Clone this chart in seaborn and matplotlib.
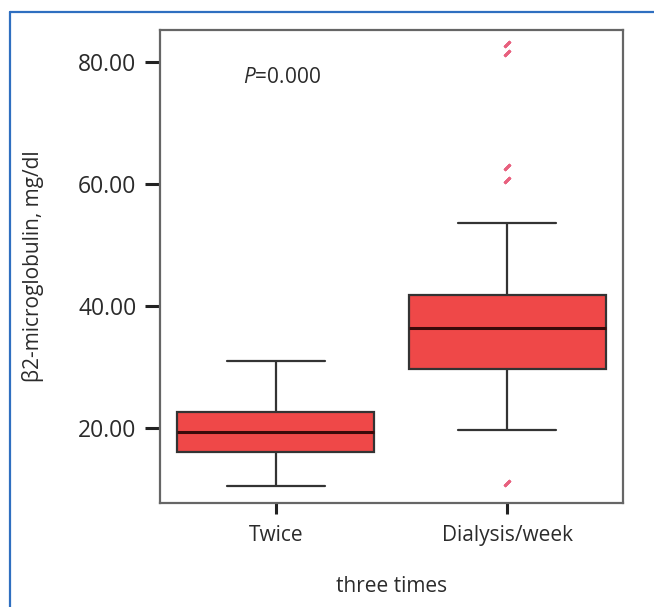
import matplotlib
matplotlib.use("Agg")
import matplotlib.pyplot as plt
from matplotlib.lines import Line2D
import seaborn as sns
import pandas as pd

# -------------------- Data --------------------
categories = ["Twice", "Dialysis/week"]

# values (whisker ends, quartiles, median, outliers)
twice_values = [10.5, 13.0, 16.1, 18.0, 19.3, 21.0, 22.6, 26.0, 31.0]
dialysis_values = [
    11.0, 19.7, 22.5, 25.0, 27.5, 29.7, 31.0, 32.5, 34.0, 35.2, 36.4,
    37.5, 38.5, 39.8, 40.8, 41.8, 53.6, 60.7, 62.8, 81.5, 83.0,
]

y_ticks = [20, 40, 60, 80]
y_ticklabels = ["20.00", "40.00", "60.00", "80.00"]
p_text = "=0.000"

df = pd.DataFrame({
    "group": [categories[0]] * len(twice_values) + [categories[1]] * len(dialysis_values),
    "value": twice_values + dialysis_values,
})

# -------------------- Plot --------------------
sns.set_style("white")
plt.rcParams["font.family"] = ["Open Sans", "DejaVu Sans"]
plt.rcParams["mathtext.fontset"] = "custom"
plt.rcParams["mathtext.it"] = "Open Sans:italic"
plt.rcParams["mathtext.rm"] = "Open Sans"

fig = plt.figure(figsize=(6.54, 6.07), dpi=100)
ax = fig.add_axes([0.2446, 0.1713, 0.7080, 0.7792])

box_color = "#ef4848"
line_color = "#333333"
text_color = "#2b2b2b"

sns.boxplot(
    data=df,
    x="group",
    y="value",
    order=categories,
    color=box_color,
    saturation=1,
    width=0.85,
    whis=1.5,
    linewidth=1.6,
    linecolor=line_color,
    medianprops=dict(color="#3a0a0a", linewidth=2.2),
    flierprops=dict(marker=(2, 2, -45), markersize=6, markeredgewidth=2.0,
                    markeredgecolor="#e8607e", markerfacecolor="#e8607e"),
    ax=ax,
)

ax.set_xlim(-0.5, 1.5)
ax.set_ylim(7.7, 85.25)
ax.set_yticks(y_ticks)
ax.set_yticklabels(y_ticklabels)

ax.tick_params(axis="y", direction="out", length=11, width=2.2, color="#222222",
               labelsize=16.5, labelcolor=text_color, pad=6, left=True)
ax.tick_params(axis="x", direction="out", length=8, width=2.2, color="#222222",
               labelsize=15, labelcolor=text_color, pad=8, bottom=True)

for side, spine in ax.spines.items():
    spine.set_visible(True)
    spine.set_color("#666666")
    spine.set_linewidth(1.6)

ax.set_xlabel("three times", fontsize=15, color=text_color)
ax.set_ylabel("β2-microglobulin, mg/dl", fontsize=15, color=text_color)
ax.xaxis.set_label_coords(0.5, -0.155)
ax.yaxis.set_label_coords(-0.25, 0.5)

ax.text(0.18, 77.5, r"$\it{P}$" + p_text, transform=ax.get_yaxis_transform(),
        fontsize=15, color=text_color, ha="left", va="center")

# blue frame (top and left edges)
frame_color = "#2f6fc0"
fig.add_artist(Line2D([10 / 654, 1.0], [1 - 12 / 607, 1 - 12 / 607],
                      transform=fig.transFigure, color=frame_color, linewidth=1.6))
fig.add_artist(Line2D([10 / 654, 10 / 654], [0.0, 1 - 12 / 607],
                      transform=fig.transFigure, color=frame_color, linewidth=1.6))

fig.savefig("out.png", dpi=100)
